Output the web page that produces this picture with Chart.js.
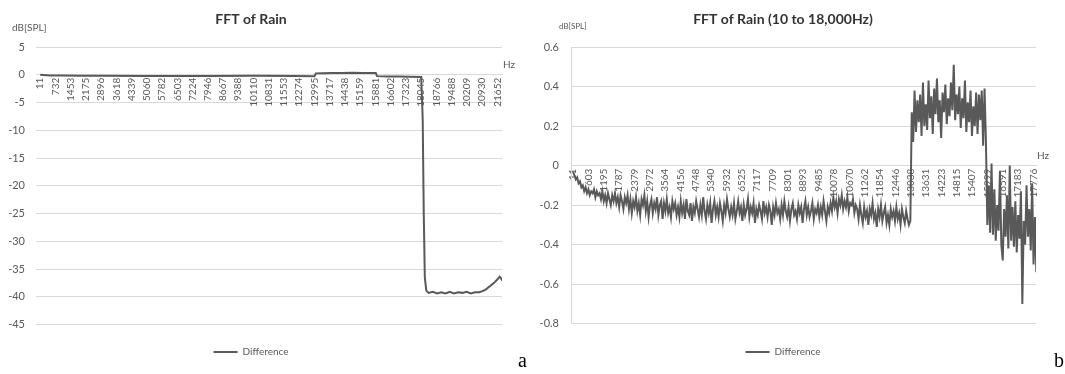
<!DOCTYPE html>
<html>
<head>
<meta charset="utf-8">
<script src="https://cdn.jsdelivr.net/npm/chart.js@4.4.1/dist/chart.umd.min.js"></script>
<style>
  html, body { margin: 0; padding: 0; background: #fff; }
  body { width: 1065px; height: 374px; position: relative; overflow: hidden; font-family: Lato, sans-serif; }
  .panel { position: absolute; top: 0; height: 374px; }
  #panel-a { left: 0; width: 530px; }
  #panel-b { left: 530px; width: 535px; }
  .tag { position: absolute; font-family: "Liberation Serif", "DejaVu Serif", serif; font-size: 20px; color: #000; line-height: 1; }
  #tag-a { left: 518px; top: 350px; }
  #tag-b { left: 1054px; top: 350px; }
</style>
</head>
<body>
<div class="panel" id="panel-a"><canvas id="chart-a" width="530" height="374"></canvas></div>
<div class="panel" id="panel-b"><canvas id="chart-b" width="535" height="374"></canvas></div>
<span class="tag" id="tag-a">a</span>
<span class="tag" id="tag-b">b</span>
<script>
// --- chart a: full band FFT difference ---
const leftTicks = [11, 732, 1453, 2175, 2896, 3618, 4339, 5060, 5782, 6503, 7224, 7946, 8667, 9388, 10110,
    10831, 11553, 12274, 12995, 13717, 14438, 15159, 15881, 16602, 17323, 18045, 18766, 19488, 20209, 20930, 21652];
const leftHz = [11, 150, 500, 1000, 2000, 3000, 5000, 8000, 10300, 12000, 13000, 13060, 13400, 13800, 14300,
    14800, 15300, 15900, 15960, 16500, 17000, 17500, 18050, 18120, 18170, 18220, 18290, 18400, 18600, 18800,
    19000, 19200, 19400, 19600, 19800, 20000, 20200, 20400, 20600, 20800, 20950, 21100, 21300, 21500, 21650,
    21760, 21820, 21874];
const leftDb = [0.0, -0.05, -0.15, -0.15, -0.18, -0.2, -0.22, -0.22, -0.2, -0.24, -0.25, 0.25, 0.28, 0.3, 0.33,
    0.35, 0.3, 0.3, -0.25, -0.3, -0.3, -0.35, -0.4, -8, -25, -36.5, -38.9, -39.3, -39.1, -39.4,
    -39.2, -39.4, -39.1, -39.4, -39.2, -39.3, -39.1, -39.4, -39.2, -39.2, -39.0, -38.7, -38.1, -37.5, -36.9,
    -36.4, -36.6, -37.1];

// --- chart b: 10 to 18,000 Hz detail, one reading every 54 Hz from 11 Hz ---
const rightTicks = [11, 603, 1195, 1787, 2379, 2972, 3564, 4156, 4748, 5340, 5932, 6525, 7117, 7709, 8301,
    8893, 9485, 10078, 10670, 11262, 11854, 12446, 13038, 13631, 14223, 14815, 15407, 15999, 16591, 17183, 17776];
const rightStartHz = 11;
const rightStepHz = 54;
const rightDb = [
    // 11 .. 983 Hz
    -0.03, -0.05, -0.07, -0.06, -0.09, -0.08, -0.11, -0.10, -0.13, -0.11, -0.14, -0.12, -0.15, -0.13, -0.14,
    -0.12, -0.16, -0.13, -0.15,
    // 1037 .. 2009 Hz
    -0.14, -0.17, -0.13, -0.18, -0.15, -0.19, -0.14, -0.17, -0.20, -0.15, -0.18, -0.14, -0.19, -0.16, -0.21,
    -0.15, -0.18, -0.22, -0.16,
    // 2063 .. 4007 Hz
    -0.19, -0.15, -0.22, -0.17, -0.24, -0.18, -0.21, -0.16, -0.23, -0.19, -0.25, -0.17, -0.2, -0.15, -0.23,
    -0.18, -0.26, -0.2, -0.17, -0.24, -0.19, -0.22, -0.16, -0.25, -0.2, -0.18, -0.27, -0.19, -0.23, -0.17,
    -0.24, -0.21, -0.26, -0.18, -0.22, -0.19, -0.25,
    // 4061 .. 9893 Hz
    -0.21, -0.26, -0.18, -0.24, -0.2, -0.27, -0.17, -0.23, -0.25, -0.19,
    -0.28, -0.21, -0.24, -0.18, -0.22, -0.26, -0.2, -0.25, -0.16, -0.23,
    -0.27, -0.2, -0.24, -0.19, -0.29, -0.22, -0.18, -0.25, -0.21, -0.26,
    -0.19, -0.23, -0.28, -0.2, -0.24, -0.17, -0.22, -0.26, -0.21, -0.25,
    -0.19, -0.27, -0.23, -0.18, -0.24, -0.21, -0.28, -0.2, -0.25, -0.22,
    -0.17, -0.26, -0.21, -0.24, -0.19, -0.29, -0.22, -0.25, -0.2, -0.23,
    -0.27, -0.18, -0.24, -0.21, -0.26, -0.2, -0.23, -0.3, -0.21, -0.25,
    -0.19, -0.24, -0.22, -0.27, -0.2, -0.25, -0.18, -0.23, -0.26, -0.21,
    -0.28, -0.22, -0.19, -0.25, -0.23, -0.27, -0.2, -0.24, -0.21, -0.29,
    -0.22, -0.18, -0.25, -0.21, -0.26, -0.23, -0.19, -0.27, -0.22, -0.24,
    -0.2, -0.26, -0.21, -0.25, -0.18, -0.23, -0.28, -0.21, -0.24,
    // 9947 .. 10919 Hz
    -0.19, -0.23, -0.16, -0.21, -0.18, -0.24, -0.17, -0.2, -0.15, -0.22, -0.18, -0.21, -0.16, -0.23, -0.19,
    -0.2, -0.17, -0.24, -0.2,
    // 10973 .. 13025 Hz
    -0.22, -0.27, -0.2, -0.25, -0.29, -0.21, -0.26, -0.23, -0.3, -0.22,
    -0.25, -0.19, -0.27, -0.24, -0.31, -0.22, -0.26, -0.2, -0.28, -0.24,
    -0.21, -0.29, -0.25, -0.3, -0.22, -0.26, -0.23, -0.28, -0.21, -0.27,
    -0.24, -0.3, -0.22, -0.26, -0.29, -0.23, -0.27, -0.3, -0.28,
    // 13079 .. 15941 Hz
    0.27, 0.12, 0.38, 0.17, 0.33, 0.22, 0.36, 0.15, 0.42, 0.2,
    0.31, 0.18, 0.43, 0.24, 0.35, 0.16, 0.39, 0.26, 0.44, 0.22,
    0.33, 0.14, 0.37, 0.27, 0.41, 0.21, 0.34, 0.25, 0.42, 0.28,
    0.51, 0.23, 0.36, 0.26, 0.4, 0.19, 0.34, 0.24, 0.43, 0.17,
    0.32, 0.22, 0.38, 0.15, 0.3, 0.2, 0.37, 0.16, 0.36, 0.23,
    0.38, 0.1, 0.39, 0.12,
    // 15995 .. 17885 Hz
    -0.3, -0.1, -0.34, 0.01, -0.35, -0.12, -0.38, -0.2, -0.33, -0.03,
    -0.4, -0.48, -0.22, -0.36, -0.15, -0.42, 0.0, -0.38, -0.21, -0.41,
    -0.18, -0.44, -0.25, -0.37, -0.13, -0.7, -0.28, -0.4, -0.1, -0.36,
    -0.22, -0.43, -0.09, -0.5, -0.26, -0.54
];

const lineColor = '#595959';
const gridColor = '#d9d9d9';
const textColor = '#595959';

Chart.defaults.font.family = 'Lato, "Open Sans", sans-serif';
Chart.defaults.color = textColor;

// writes the unit labels: dB[SPL] above the value axis and Hz at the end of the zero line
const axisNotes = {
    id: 'axisNotes',
    afterDraw(chart, args, opts) {
        const { ctx, chartArea, scales } = chart;
        const zeroY = scales.y.getPixelForValue(0);
        ctx.save();
        ctx.fillStyle = textColor;
        ctx.textBaseline = 'middle';
        ctx.textAlign = 'left';
        ctx.font = opts.unitSize + 'px Lato';
        ctx.fillText('dB[SPL]', opts.unitX, opts.unitY);
        ctx.font = opts.hzSize + 'px Lato';
        ctx.fillText('Hz', chartArea.right + 1, zeroY - 10);
        ctx.restore();
    }
};

function buildChart(canvasId, cfg) {
    const ctx = document.getElementById(canvasId).getContext('2d');
    return new Chart(ctx, {
        type: 'line',
        data: {
            datasets: [{
                label: 'Difference',
                data: cfg.points,
                borderColor: lineColor,
                backgroundColor: lineColor,
                borderWidth: cfg.lineWidth,
                pointRadius: 0,
                tension: 0,
                fill: false
            }]
        },
        plugins: [axisNotes],
        options: {
            responsive: false,
            animation: false,
            devicePixelRatio: 1,
            layout: { padding: { left: 0, right: cfg.padRight, top: 0, bottom: 7 } },
            scales: {
                x: {
                    type: 'linear',
                    position: { y: 0 },
                    min: cfg.xMin,
                    max: cfg.xMax,
                    z: 1,
                    afterBuildTicks: (s) => { s.ticks = cfg.ticks.map(v => ({ value: v })); },
                    afterFit: (s) => { s.height = 0; },
                    ticks: {
                        autoSkip: false,
                        minRotation: 90,
                        maxRotation: 90,
                        padding: 3,
                        color: textColor,
                        font: { size: 10 },
                        callback: (v) => String(v)
                    },
                    grid: { display: false, drawTicks: false },
                    border: { display: true, color: gridColor }
                },
                y: {
                    min: cfg.yMin,
                    max: cfg.yMax,
                    afterFit: (s) => { s.width = cfg.yWidth; },
                    ticks: {
                        stepSize: cfg.yStep,
                        padding: cfg.yPad,
                        color: textColor,
                        font: { size: 11 },
                        callback: (v) => String(Number(v.toFixed(1)))
                    },
                    grid: { color: gridColor, drawTicks: false },
                    border: { display: cfg.yBorder, color: gridColor }
                }
            },
            plugins: {
                title: {
                    display: true,
                    text: cfg.title,
                    color: '#333333',
                    font: { size: 14, weight: 'bold' },
                    padding: { top: 11, bottom: 19.2 }
                },
                legend: {
                    position: 'bottom',
                    labels: {
                        usePointStyle: true,
                        pointStyle: 'line',
                        pointStyleWidth: 24,
                        padding: cfg.legendPad,
                        color: textColor,
                        font: { size: 10 }
                    }
                },
                tooltip: { enabled: false },
                axisNotes: cfg.notes
            }
        }
    });
}

buildChart('chart-a', {
    title: 'FFT of Rain',
    points: leftHz.map((hz, i) => ({ x: hz, y: leftDb[i] })),
    ticks: leftTicks,
    xMin: -187, xMax: 21874,
    yMin: -45, yMax: 5, yStep: 5,
    yWidth: 36, yPad: 11, yBorder: false,
    padRight: 28,
    legendPad: 22.5,
    lineWidth: 2,
    notes: { unitX: 12, unitY: 28, unitSize: 10, hzSize: 10 }
});

buildChart('chart-b', {
    title: 'FFT of Rain (10 to 18,000Hz)',
    points: rightDb.map((db, i) => ({ x: rightStartHz + i * rightStepHz, y: db })),
    ticks: rightTicks,
    xMin: -66, xMax: 17872,
    yMin: -0.8, yMax: 0.6, yStep: 0.2,
    yWidth: 41, yPad: 12, yBorder: true,
    padRight: 29,
    legendPad: 23.3,
    lineWidth: 2,
    notes: { unitX: 29, unitY: 26, unitSize: 8, hzSize: 10 }
});
</script>
</body>
</html>
